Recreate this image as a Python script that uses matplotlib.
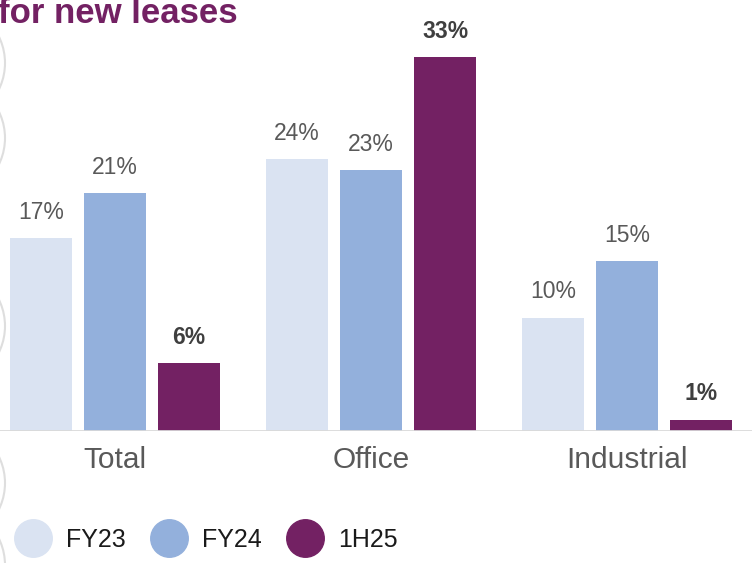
import matplotlib.pyplot as plt
import numpy as np
from matplotlib.lines import Line2D
from matplotlib.patches import Circle

categories = ['Total', 'Office', 'Industrial']
series_names = ['FY23', 'FY24', '1H25']
fy23 = [17, 24, 10]
fy24 = [21, 23, 15]
h125 = [6, 33, 1]
values = [fy23, fy24, h125]
colors = ['#dae3f2', '#93b0dc', '#732163']

plt.rcParams['font.family'] = ['Liberation Sans', 'DejaVu Sans']

fig = plt.figure(figsize=(7.52, 5.63), dpi=100)
ax = fig.add_axes([0, 132 / 563, 1, 431 / 563])

x = np.arange(len(categories))
step = 74 / 256
width = 62 / 256

for i, (name, vals) in enumerate(zip(series_names, values)):
    pos = x + (i - 1) * step
    ax.bar(pos, vals, width=width, color=colors[i], zorder=2)
    for px, v in zip(pos, vals):
        if name == '1H25':
            ax.annotate(f'{v}%', (px, v), xytext=(0, 14), textcoords='offset points',
                        ha='center', va='baseline', fontsize=16.5, fontweight='bold',
                        color='#3f3f3f')
        else:
            ax.annotate(f'{v}%', (px, v), xytext=(0, 14), textcoords='offset points',
                        ha='center', va='baseline', fontsize=16.5, color='#595959')

ax.set_xlim(-115 / 256, 2.488)
ax.set_ylim(0, 431 / 11.33)
ax.axhline(0, color='#d9d9d9', lw=2, zorder=3)
for s in ax.spines.values():
    s.set_visible(False)
ax.set_yticks([])
ax.set_xticks(x)
ax.set_xticklabels(categories, fontsize=21.5, color='#595959')
ax.tick_params(axis='x', length=0, pad=11)

# title, cut off at the top of the crop
fig.text(-0.003, 1 - 23 / 563, 'for new leases', fontsize=25, fontweight='bold',
         color='#732163', ha='left', va='baseline')

# faint decorative circles at the left edge
for cy in [63, 138, 326, 483, 565]:
    fig.add_artist(Circle((-0.55, (563 - cy) / 100), 0.6, transform=fig.dpi_scale_trans,
                          fill=False, edgecolor='#dedede', lw=1.5))

handles = [Line2D([], [], marker='o', ls='', markersize=27, color=c) for c in colors]
fig.legend(handles, series_names, loc='center left', bbox_to_anchor=(0.011, 1 - 540 / 563),
           frameon=False, ncol=3, fontsize=18, handlelength=1.4, handletextpad=0.6,
           columnspacing=1.05, borderaxespad=0, borderpad=0.3, labelcolor='#1a1a1a')

fig.savefig('out.png', dpi=100)
